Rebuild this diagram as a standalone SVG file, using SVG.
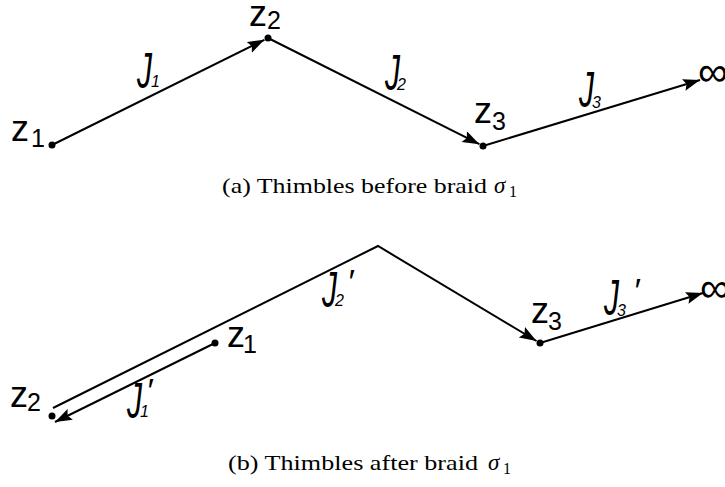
<svg xmlns="http://www.w3.org/2000/svg" width="725" height="487" viewBox="0 0 725 487">
<style>
.edge{fill:none;stroke:#000;stroke-width:2}
.dot{fill:#000}
.z{font-family:"Liberation Sans",Arial,sans-serif;font-size:36px;fill:#000}
.zs{font-family:"Liberation Sans",Arial,sans-serif;font-size:25px;fill:#000}
.J{font-family:"Liberation Sans",Arial,sans-serif;font-style:italic;font-size:50px;fill:#000}
.Js{font-family:"Liberation Sans",Arial,sans-serif;font-style:italic;font-size:16px;fill:#000}
.pr{font-family:"Liberation Sans","DejaVu Sans",sans-serif;font-style:italic;font-size:34px;fill:#000}
.inf{font-family:"Liberation Sans","DejaVu Sans",sans-serif;font-size:42px;fill:#000}
.cap{font-family:"Liberation Serif","DejaVu Serif",serif;font-size:21px;fill:#000}
.sig{font-family:"Liberation Serif","DejaVu Serif",serif;font-style:italic;font-size:23px;fill:#000}
.sub{font-family:"Liberation Serif","DejaVu Serif",serif;font-size:16px;fill:#000}
</style>
<defs>
<marker id="arr" markerUnits="userSpaceOnUse" markerWidth="20" markerHeight="14" refX="17" refY="6" orient="auto">
<path d="M0,0 L17,6 L0,12 L3,6 z" fill="#000"/>
</marker>
</defs>
<g id="connectors">
<line class="edge" x1="52" y1="145" x2="264.4" y2="39.8" marker-end="url(#arr)"/>
<line class="edge" x1="268" y1="38" x2="479.4" y2="144.2" marker-end="url(#arr)"/>
<line class="edge" x1="483" y1="146" x2="700" y2="80" marker-end="url(#arr)"/>
<polyline class="edge" points="53,408 378,246 536.5,341" marker-end="url(#arr)"/>
<line class="edge" x1="540" y1="343" x2="703" y2="293" marker-end="url(#arr)"/>
<line class="edge" x1="215" y1="343" x2="55" y2="422" marker-end="url(#arr)"/>
</g>
<g id="a-z1"><circle class="dot" cx="52" cy="145" r="3.5"/><text class="z" x="11" y="141">z</text><text class="zs" x="31" y="147">1</text></g>
<g id="a-z2"><circle class="dot" cx="268" cy="38" r="3.5"/><text class="z" x="249" y="26">z</text><text class="zs" x="267" y="29">2</text></g>
<g id="a-z3"><circle class="dot" cx="483" cy="146" r="3.5"/><text class="z" x="474" y="123">z</text><text class="zs" x="492" y="130">3</text></g>
<g id="a-inf"><text class="inf" x="698" y="86">∞</text></g>
<g id="a-labels">
<text class="J" transform="translate(137,88) scale(0.6,1)">J</text><text class="Js" x="151" y="87">1</text>
<text class="J" transform="translate(385,90) scale(0.6,1)">J</text><text class="Js" x="397" y="90">2</text>
<text class="J" transform="translate(579,107) scale(0.6,1)">J</text><text class="Js" x="592" y="108">3</text>
</g>
<text class="cap" x="222" y="193" textLength="265" lengthAdjust="spacingAndGlyphs">(a) Thimbles before braid</text>
<text class="sig" x="494" y="193">σ</text><text class="sub" x="509" y="197">1</text>
<g id="b-z1"><circle class="dot" cx="215" cy="343" r="3.5"/><text class="z" x="227" y="347">z</text><text class="zs" x="243" y="353">1</text></g>
<g id="b-z2"><circle class="dot" cx="52" cy="416" r="3.5"/><text class="z" x="10" y="407">z</text><text class="zs" x="27" y="411">2</text></g>
<g id="b-z3"><circle class="dot" cx="540" cy="343" r="3.5"/><text class="z" x="531" y="323">z</text><text class="zs" x="548" y="330">3</text></g>
<g id="b-inf"><text class="inf" x="700" y="302">∞</text></g>
<g id="b-labels">
<text class="J" transform="translate(127,418) scale(0.6,1)">J</text><text class="Js" x="140" y="417">1</text><text class="pr" x="146" y="402">′</text>
<text class="J" transform="translate(322,307) scale(0.6,1)">J</text><text class="Js" x="335" y="306">2</text><text class="pr" x="347" y="293">′</text>
<text class="J" transform="translate(604,315) scale(0.6,1)">J</text><text class="Js" x="617" y="316">3</text><text class="pr" x="633" y="302">′</text>
</g>
<text class="cap" x="228" y="470" textLength="250" lengthAdjust="spacingAndGlyphs">(b) Thimbles after braid</text>
<text class="sig" x="488" y="470">σ</text><text class="sub" x="503" y="474">1</text>
</svg>
